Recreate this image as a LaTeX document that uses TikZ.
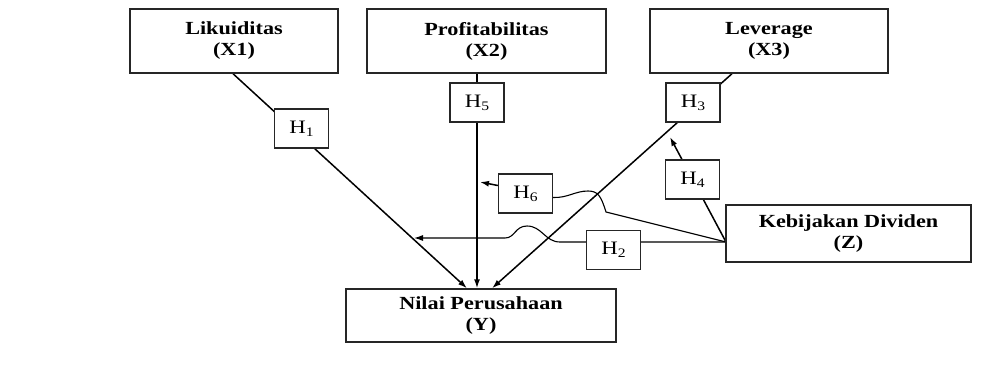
\documentclass[tikz,border=0pt]{standalone}
\usepackage{fontspec}
\setmainfont{Liberation Serif}[FakeStretch=1.2]
\usetikzlibrary{arrows.meta,calc,backgrounds}
\newcommand{\hlabel}[1]{H\raisebox{-0.35ex}{\fontsize{13}{13}\selectfont #1}}
\begin{document}
\begin{tikzpicture}[x=1pt, y=-1pt,
    var/.style={draw=black!85, line width=1.4pt, fill=white, inner sep=0pt, align=center,
        font=\fontsize{18.5}{21}\selectfont\bfseries},
    hyp/.style={draw=black!85, line width=1.3pt, fill=white, minimum width=54pt,
        minimum height=39pt, inner sep=0pt, font=\fontsize{19}{21}\selectfont},
    arrow/.style={-{Latex[length=9pt,width=6pt]}, line width=1.5pt},
    thin/.style={line width=1.1pt}]
    \useasboundingbox (0,0) rectangle (996,370);

    \node[var, minimum width=208pt, minimum height=64pt] (x1) at (234,41) {Likuiditas\\(X1)};
    \node[var, minimum width=239pt, minimum height=64pt] (x2) at (486.5,41) {Profitabilitas\\(X2)};
    \node[var, minimum width=238pt, minimum height=64pt] (x3) at (769,41) {Leverage\\(X3)};
    \node[var, minimum width=270pt, minimum height=53pt] (y) at (481,315.5) {Nilai Perusahaan\\(Y)};
    \node[var, minimum width=245pt, minimum height=57pt] (z) at (848.5,233.5) {Kebijakan Dividen\\(Z)};

    \node[hyp] (h1) at (301.5,128.5) {\hlabel{1}};
    \node[hyp] (h5) at (477,102.5) {\hlabel{5}};
    \node[hyp] (h3) at (693,102.5) {\hlabel{3}};
    \node[hyp] (h4) at (692.5,179.5) {\hlabel{4}};
    \node[hyp] (h6) at (525.5,193.5) {\hlabel{6}};
    \node[hyp] (h2) at (613.5,250) {\hlabel{2}};

    \coordinate (zin) at (726,242);
    \coordinate (tip2) at (414,238);
    \coordinate (tip4) at (670,137);
    \coordinate (tip6) at (480,182);

    \begin{pgfonlayer}{background}
    \draw[arrow] ($(x1.south)+(-1,0)$) -- ($(y.north)+(-14,0)$);
    \draw[arrow] (h5 |- x2.south) -- (h5 |- y.north);
    \draw[arrow] ($(x3.south)+(-37,0)$) -- ($(y.north)+(11,0)$);
    \draw[arrow] (zin) -- (tip4);
    \draw[arrow, thin] (zin) -- (560,242) .. controls (545,242) and (542,226) .. (527,226)
        .. controls (515,226) and (515,238) .. (505,238) -- (tip2);
    \draw[thin] (zin) -- (606,212) .. controls (601,196) and (598,191) .. (588,191)
        .. controls (575,191) and (568,198) .. ($(h6.east)+(0,4)$);
    \draw[arrow] ($(h6.west)+(0,-8)$) -- (tip6);
    \end{pgfonlayer}
\end{tikzpicture}
\end{document}
